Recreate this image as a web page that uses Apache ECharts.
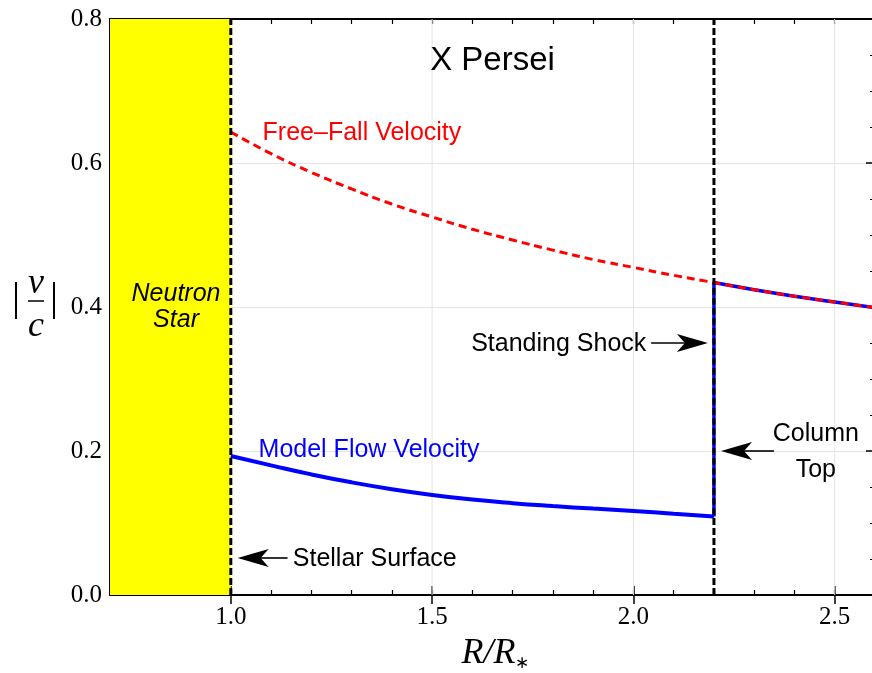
<!DOCTYPE html>
<html><head><meta charset="utf-8">
<script src="https://cdn.jsdelivr.net/npm/echarts@6/dist/echarts.min.js"></script>
<style>html,body{margin:0;padding:0;background:#fff;overflow:hidden}#c{width:872px;height:673px}</style>
</head><body><div id="c"></div>
<script>
// ---- data ----
const xMin = 0.7, xMax = 2.6;
const yMin = 0, yMax = 0.8;
const xMajorTicks = [1.0, 1.5, 2.0, 2.5];
const xGridLines = [1.5, 2.0, 2.5];
const yTickInterval = 0.2;
const starRadius = 1.0;      // stellar surface
const shockRadius = 2.2;     // standing shock / column top

const freeFallR = [1.0, 1.1, 1.2, 1.3, 1.4, 1.5, 1.6, 1.7, 1.8, 1.9, 2.0, 2.1, 2.2, 2.3, 2.4, 2.5, 2.6];
const freeFallV = [0.643, 0.613, 0.587, 0.564, 0.543, 0.525, 0.508, 0.493, 0.479, 0.466, 0.455, 0.444, 0.434, 0.424, 0.415, 0.407, 0.399];

const modelR = [1.0, 1.1, 1.2, 1.3, 1.4, 1.5, 1.6, 1.7, 1.8, 1.9, 2.0, 2.1, 2.2];
const modelV = [0.193, 0.180, 0.1675, 0.1565, 0.147, 0.139, 0.1325, 0.1275, 0.1235, 0.120, 0.1167, 0.1128, 0.109];

// ---- build ----
const pairs = (xs, ys) => xs.map((x, i) => [x, ys[i]]);
const freeFall = pairs(freeFallR, freeFallV);
const modelLower = pairs(modelR, modelV);
const modelUpper = freeFall.filter(p => p[0] >= shockRadius);
const shockJump = [[shockRadius, modelV[modelV.length - 1]], modelUpper[0]];

const serif = '"Liberation Serif", "Times New Roman", serif';
const sans = '"Liberation Sans", Arial, Helvetica, sans-serif';

const chart = echarts.init(document.getElementById('c'), null, {renderer: 'canvas'});

const axisLine = {show: true, onZero: false, lineStyle: {color: '#000', width: 2}};
function xAx(pos, major) {
  return {
    type: 'value', position: pos, min: xMin, max: xMax,
    interval: major ? undefined : 0.1,
    axisLine: major ? {show: false} : axisLine,
    axisTick: major
      ? {show: true, inside: true, length: 9, customValues: xMajorTicks, lineStyle: {color: '#000', width: 1.5}}
      : {show: true, inside: true, length: 5, lineStyle: {color: '#000', width: 1.2}},
    axisLabel: (pos === 'bottom' && !major)
      ? {show: true, customValues: xMajorTicks, formatter: v => Number(v).toFixed(1), color: '#000',
         fontFamily: serif, fontSize: 25, margin: 10}
      : {show: false},
    splitLine: {show: false}
  };
}
function yAx(pos) {
  return {
    type: 'value', position: pos, min: yMin, max: yMax, interval: yTickInterval,
    axisLine: axisLine,
    axisTick: {show: true, inside: true, length: 9, lineStyle: {color: '#000', width: 1.5}},
    minorTick: {show: true, splitNumber: 4, length: 5, lineStyle: {color: '#000', width: 1.2}},
    axisLabel: pos === 'left'
      ? {show: true, formatter: v => Number(v).toFixed(1), color: '#000', fontFamily: serif, fontSize: 25, margin: 8}
      : {show: false},
    splitLine: {show: pos === 'left', lineStyle: {color: '#e4e4e4', width: 1}}
  };
}

const gridSeries = xGridLines.map(v => ({
  type: 'line', data: [[v, yMin], [v, yMax]], z: 1, silent: true, showSymbol: false,
  lineStyle: {color: '#e4e4e4', width: 1}
}));
const boundarySeries = [starRadius, shockRadius].map(v => ({
  type: 'line', data: [[v, yMin], [v, yMax]], z: 9, silent: true, showSymbol: false,
  lineStyle: {color: '#000', width: 3, type: [7, 3]}
}));

const option = {
  animation: false,
  backgroundColor: '#fff',
  grid: {left: 110, top: 19, width: 765, height: 576, containLabel: false, outerBoundsMode: 'none'},
  xAxis: [xAx('bottom', false), xAx('bottom', true), xAx('top', false), xAx('top', true)],
  yAxis: [yAx('left'), yAx('right')],
  series: gridSeries.concat([
    { // neutron star region
      type: 'line', data: [], z: 2, silent: true,
      markArea: {silent: true, itemStyle: {color: '#ffff00'},
        data: [[{xAxis: xMin, yAxis: yMin}, {xAxis: starRadius, yAxis: yMax}]]}
    },
    {type: 'line', name: 'model', data: modelLower, smooth: true, showSymbol: false, z: 5,
      lineStyle: {color: '#0000ff', width: 4}},
    {type: 'line', name: 'model jump', data: shockJump, smooth: false, showSymbol: false, z: 5,
      lineStyle: {color: '#0000ff', width: 3.5}},
    {type: 'line', name: 'model upper', data: modelUpper, smooth: true, showSymbol: false, z: 5,
      lineStyle: {color: '#0000ff', width: 3.5}},
    {type: 'line', name: 'free fall', data: freeFall, smooth: true, showSymbol: false, z: 6,
      lineStyle: {color: '#ff0000', width: 3, type: [8, 5]}}
  ], boundarySeries)
};
chart.setOption(option);

// ---- annotations (anchored in data coordinates) ----
const P = (x, y) => chart.convertToPixel({xAxisIndex: 0, yAxisIndex: 0}, [x, y]);

function arrow(tipData, tailX) {
  const tip = P(tipData[0], tipData[1]);
  const tail = P(tailX, tipData[1]);
  const dir = Math.sign(tail[0] - tip[0]);
  const L = 31, h = 9, N = 23;
  return [
    {type: 'polygon', z: 20, shape: {points: [
      [tip[0], tip[1]], [tip[0] + dir * L, tip[1] - h], [tip[0] + dir * N, tip[1]], [tip[0] + dir * L, tip[1] + h]]},
      style: {fill: '#000'}},
    {type: 'line', z: 20, shape: {x1: tip[0] + dir * N, y1: tip[1], x2: tail[0], y2: tail[1]},
      style: {stroke: '#000', lineWidth: 1.6}}
  ];
}
function txt(at, text, opts) {
  const p = P(at[0], at[1]);
  return {type: 'text', z: 20, x: p[0], y: p[1], style: Object.assign({
    text: text, fill: '#000', font: '25px ' + sans, align: 'left', verticalAlign: 'middle'}, opts || {})};
}

const g = [];
g.push(txt([1.65, 0.742], 'X Persei', {font: '33px ' + sans, align: 'center'}));
g.push(txt([1.079, 0.641], 'Free–Fall Velocity', {fill: '#ff0000'}));
g.push(txt([1.069, 0.2015], 'Model Flow Velocity', {fill: '#0000ff'}));
g.push(txt([0.864, 0.400], 'Neutron\nStar', {font: 'italic 25px ' + sans, align: 'center', lineHeight: 26}));
g.push(...arrow([1.017, 0.0514], 1.141));
g.push(txt([1.154, 0.0500], 'Stellar Surface'));
g.push(...arrow([2.185, 0.35], 2.044));
g.push(txt([2.032, 0.349], 'Standing Shock', {align: 'right'}));
g.push(...arrow([2.2175, 0.2], 2.349));
g.push(txt([2.453, 0.199], 'Column\nTop', {align: 'center', lineHeight: 36}));

// axis names
const origin = P(xMin, 0.4);
const ox = origin[0], oy = origin[1];
const cx = ox - 74;
g.push({type: 'rect', z: 20, shape: {x: ox - 95, y: oy - 25, width: 2, height: 37}, style: {fill: '#000'}});
g.push({type: 'rect', z: 20, shape: {x: ox - 57, y: oy - 25, width: 2, height: 37}, style: {fill: '#000'}});
g.push({type: 'text', z: 20, x: cx, y: oy - 23, style: {text: 'v', font: 'italic 36px ' + serif, fill: '#000', align: 'center', verticalAlign: 'middle'}});
g.push({type: 'line', z: 20, shape: {x1: cx - 8, y1: oy - 6, x2: cx + 8, y2: oy - 6}, style: {stroke: '#000', lineWidth: 1.5}});
g.push({type: 'text', z: 20, x: cx, y: oy + 20, style: {text: 'c', font: 'italic 36px ' + serif, fill: '#000', align: 'center', verticalAlign: 'middle'}});

const mid = P(1.65, 0);
g.push({type: 'text', z: 20, x: mid[0] - 4, y: 654, style: {text: 'R/R', font: 'italic 36px ' + serif, fill: '#000', align: 'center', verticalAlign: 'middle'}});
g.push({type: 'text', z: 20, x: mid[0] + 22, y: 664, style: {text: '∗', font: '17px ' + serif, fill: '#000', align: 'left', verticalAlign: 'middle'}});

chart.setOption({graphic: g});
</script>
</body></html>
